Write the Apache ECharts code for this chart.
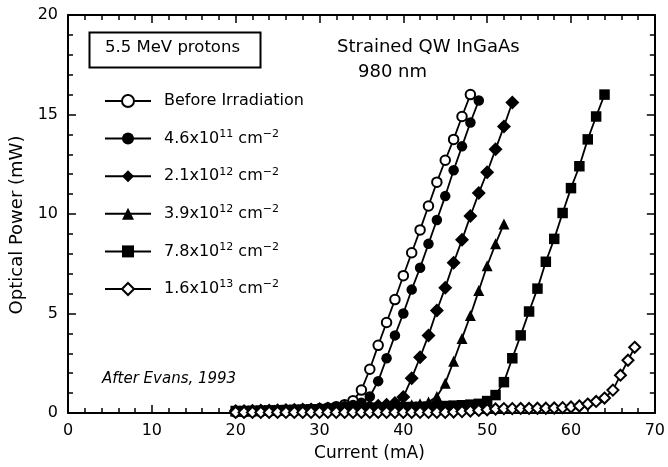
<!DOCTYPE html>
<html><head><meta charset="utf-8">
<script src="https://cdn.jsdelivr.net/npm/echarts@6.0.0/dist/echarts.min.js"></script>
<style>html,body{margin:0;padding:0;background:#fff}#c{width:668px;height:467px}</style>
</head><body><div id="c"></div>
<script>
// ---- data ----
const seriesNames = ['Before Irradiation', '4.6x10^11', '2.1x10^12', '3.9x10^12', '7.8x10^12', '1.6x10^13'];

const currentBefore = [20,21,22,23,24,25,26,27,28,29,30,31,32,33,34,35,36,37,38,39,40,41,42,43,44,45,46,47,48];
const powerBefore   = [0.05,0.05,0.06,0.07,0.08,0.09,0.10,0.12,0.14,0.17,0.20,0.25,0.32,0.42,0.62,1.15,2.2,3.4,4.55,5.7,6.9,8.05,9.2,10.4,11.6,12.7,13.75,14.9,16.0];

const current46e11 = [20,21,22,23,24,25,26,27,28,29,30,31,32,33,34,35,36,37,38,39,40,41,42,43,44,45,46,47,48,49];
const power46e11   = [0.10,0.10,0.11,0.12,0.13,0.14,0.15,0.17,0.19,0.21,0.24,0.27,0.30,0.34,0.40,0.52,0.83,1.6,2.75,3.9,5.0,6.2,7.3,8.5,9.7,10.9,12.2,13.4,14.6,15.7];

const current21e12 = [20,21,22,23,24,25,26,27,28,29,30,31,32,33,34,35,36,37,38,39,40,41,42,43,44,45,46,47,48,49,50,51,52,53];
const power21e12   = [0.10,0.10,0.11,0.12,0.13,0.14,0.15,0.16,0.17,0.18,0.20,0.22,0.24,0.26,0.28,0.30,0.33,0.37,0.42,0.50,0.80,1.75,2.8,3.9,5.15,6.3,7.55,8.7,9.9,11.05,12.1,13.25,14.4,15.6];

const current39e12 = [20,21,22,23,24,25,26,27,28,29,30,31,32,33,34,35,36,37,38,39,40,41,42,43,44,45,46,47,48,49,50,51,52];
const power39e12   = [0.10,0.10,0.11,0.12,0.13,0.14,0.15,0.16,0.17,0.18,0.19,0.20,0.22,0.24,0.26,0.28,0.30,0.32,0.34,0.36,0.38,0.42,0.46,0.55,0.83,1.5,2.6,3.75,4.9,6.15,7.4,8.5,9.5];

const current78e12 = [20,21,22,23,24,25,26,27,28,29,30,31,32,33,34,35,36,37,38,39,40,41,42,43,44,45,46,47,48,49,50,51,52,53,54,55,56,57,58,59,60,61,62,63,64];
const power78e12   = [0.10,0.10,0.11,0.12,0.13,0.14,0.15,0.16,0.17,0.18,0.19,0.20,0.21,0.22,0.23,0.24,0.25,0.26,0.27,0.28,0.29,0.30,0.31,0.32,0.33,0.35,0.37,0.39,0.42,0.46,0.60,0.90,1.55,2.75,3.9,5.1,6.25,7.6,8.75,10.05,11.3,12.4,13.75,14.9,16.0];

const current16e13 = [20,21,22,23,24,25,26,27,28,29,30,31,32,33,34,35,36,37,38,39,40,41,42,43,44,45,46,47,48,49,50,51,52,53,54,55,56,57,58,59,60,61,62,63,64,65,65.9,66.8,67.6];
const power16e13   = [0.03,0.03,0.03,0.03,0.03,0.03,0.03,0.03,0.03,0.03,0.03,0.03,0.03,0.03,0.03,0.03,0.03,0.03,0.03,0.03,0.03,0.03,0.03,0.03,0.03,0.03,0.05,0.07,0.10,0.13,0.16,0.20,0.22,0.22,0.23,0.23,0.24,0.24,0.25,0.27,0.30,0.35,0.45,0.58,0.75,1.15,1.9,2.65,3.3];

const xTicks = {min: 0, max: 70, step: 10};
const yTicks = {min: 0, max: 20, step: 5};

// ---- helpers ----
function pairs(xs, ys){ return xs.map((x, i) => [x, ys[i]]); }
const FONT = 'DejaVu Sans';

function legendLabel(name){
  if (name === 'Before Irradiation') return '{n|Before Irradiation}';
  const parts = name.split('^');
  const exp = parts[1];
  return '{n|' + parts[0] + '}{s|' + exp + '}{n| cm}{s|\u22122}';
}

const dataSets = [
  pairs(currentBefore, powerBefore),
  pairs(current46e11, power46e11),
  pairs(current21e12, power21e12),
  pairs(current39e12, power39e12),
  pairs(current78e12, power78e12),
  pairs(current16e13, power16e13)
];
const symbols = ['emptyCircle', 'circle', 'diamond', 'triangle', 'rect', 'emptyDiamond'];
const symbolSizes = [9.5, 10.5, 14, 11, 10.5, 11];

const chart = echarts.init(document.getElementById('c'), null, {renderer: 'canvas'});

function axisCommon(extra){
  return Object.assign({
    type: 'value',
    axisLine: {show: true, onZero: false, lineStyle: {color: '#000', width: 2}},
    axisTick: {show: true, inside: true, length: 8, lineStyle: {color: '#000', width: 1.5}},
    minorTick: {show: true, splitNumber: 5, length: 5, lineStyle: {color: '#000', width: 1.5}},
    splitLine: {show: false},
    minorSplitLine: {show: false}
  }, extra);
}

const option = {
  animation: false,
  backgroundColor: '#fff',
  grid: {left: 68, right: 8, top: 15, bottom: 52, containLabel: false},
  xAxis: [
    axisCommon({
      min: xTicks.min, max: xTicks.max, interval: xTicks.step, position: 'bottom',
      name: 'Current (mA)', nameLocation: 'middle', nameGap: 32,
      nameTextStyle: {fontFamily: FONT, fontSize: 17, color: '#000', padding: [0, 0, 0, 16]},
      axisLabel: {show: true, margin: 10, fontFamily: FONT, fontSize: 16, color: '#000'}
    }),
    axisCommon({
      min: xTicks.min, max: xTicks.max, interval: xTicks.step, position: 'top',
      axisLabel: {show: false}
    })
  ],
  yAxis: [
    axisCommon({
      min: yTicks.min, max: yTicks.max, interval: yTicks.step, position: 'left',
      name: 'Optical Power (mW)', nameLocation: 'middle', nameGap: 32,
      nameTextStyle: {fontFamily: FONT, fontSize: 18, color: '#000', padding: [0, 22, 0, 0]},
      axisLabel: {show: true, margin: 10, fontFamily: FONT, fontSize: 16, color: '#000'}
    }),
    axisCommon({
      min: yTicks.min, max: yTicks.max, interval: yTicks.step, position: 'right',
      axisLabel: {show: false}
    })
  ],
  legend: {
    orient: 'vertical', left: 104, top: 93, padding: 0,
    itemWidth: 46, itemHeight: 15, itemGap: 19.6,
    selectedMode: false,
    data: seriesNames,
    formatter: legendLabel,
    textStyle: {
      fontFamily: FONT, fontSize: 16, color: '#000', padding: [0, 0, 0, 8],
      rich: {
        n: {fontFamily: FONT, fontSize: 16, color: '#000', lineHeight: 20},
        s: {fontFamily: FONT, fontSize: 11, color: '#000', lineHeight: 12, verticalAlign: 'top'}
      }
    }
  },
  graphic: [
    {type: 'rect', left: 87, top: 30, shape: {width: 171, height: 35},
     style: {fill: 'none', stroke: '#000', lineWidth: 2}, z: 10},
    {type: 'text', x: 172.5, y: 48, style: {text: '5.5 MeV protons', font: '16.5px "DejaVu Sans"', fill: '#000', align: 'center', verticalAlign: 'middle'}, z: 10},
    {type: 'text', x: 337, y: 47, style: {text: 'Strained QW InGaAs', font: '18px "DejaVu Sans"', fill: '#000', align: 'left', verticalAlign: 'middle'}, z: 10},
    {type: 'text', x: 358, y: 72, style: {text: '980 nm', font: '18px "DejaVu Sans"', fill: '#000', align: 'left', verticalAlign: 'middle'}, z: 10},
    {type: 'text', x: 102, y: 379, style: {text: 'After Evans, 1993', font: 'italic 15px "DejaVu Sans"', fill: '#000', align: 'left', verticalAlign: 'middle'}, z: 10}
  ],
  series: seriesNames.map((name, i) => ({
    type: 'line',
    name: name,
    xAxisIndex: 0, yAxisIndex: 0,
    data: dataSets[i],
    symbol: symbols[i],
    symbolSize: symbolSizes[i],
    showSymbol: true,
    showAllSymbol: true,
    lineStyle: {color: '#000', width: 1.8},
    itemStyle: {color: '#000'},
    emphasis: {disabled: true},
    z: 2 + i
  }))
};
chart.setOption(option);
</script>
</body></html>
